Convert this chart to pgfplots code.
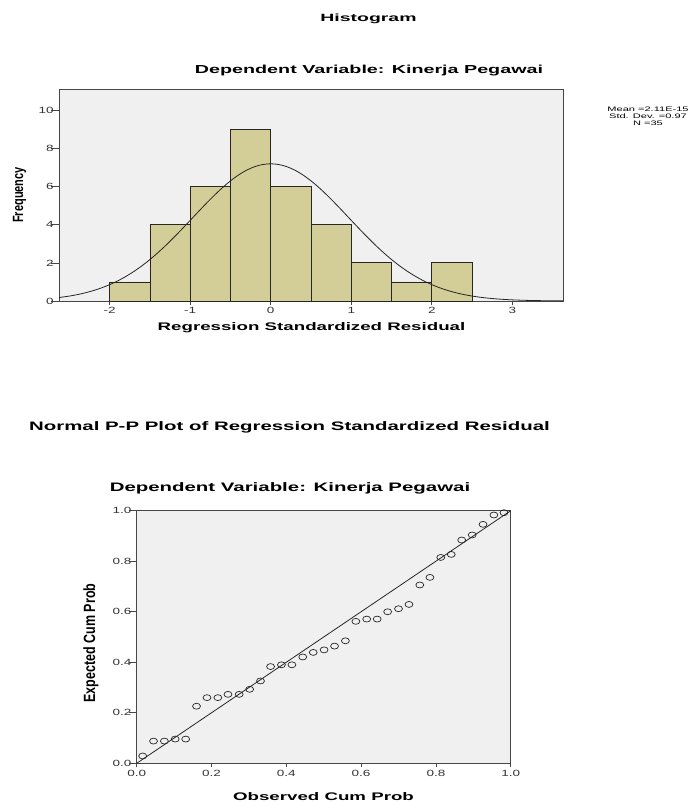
\documentclass[border=0pt]{standalone}
\usepackage{fontspec}
\setmainfont{Liberation Sans}
\usepackage{pgfplots}
\pgfplotsset{compat=1.18}
\definecolor{barfill}{RGB}{211,206,151}
\definecolor{bgfill}{RGB}{240,240,240}
\definecolor{frame}{RGB}{70,70,70}
\newcommand{\sx}[1]{\scalebox{1.7}[1]{#1}}
\pgfplotsset{
  spss/.style={
    scale only axis,
    anchor=south west,
    axis background/.style={fill=bgfill},
    axis line style={frame, line width=1pt},
    tick align=outside,
    xtick pos=bottom, ytick pos=left,
    xtick style={frame, line width=0.7pt, /pgfplots/major tick length=4pt},
    ytick style={frame, line width=0.7pt, /pgfplots/major tick length=8pt},
    tick label style={font=\fontsize{9}{10}\selectfont, text=black!80},
    xticklabel={\scalebox{1.5}[1]{\pgfmathprintnumber{\tick}}},
    yticklabel={\scalebox{1.5}[1]{\pgfmathprintnumber{\tick}}},
    xticklabel style={inner sep=1pt, yshift=-1pt},
    yticklabel style={inner sep=0.8pt},
    /pgf/number format/assume math mode=true,
  }
}
\begin{document}
\begin{tikzpicture}[x=1pt,y=1pt]
\useasboundingbox (0,0) rectangle (699,-803);
% Histogram titles
\node[font=\bfseries\fontsize{10.5}{12}\selectfont] at (368.5,-19) {\scalebox{1.85}[1]{Histogram}};
\node[font=\bfseries\fontsize{11.6}{13}\selectfont] at (369,-71) {\sx{Dependent Variable: Kinerja Pegawai}};
\node[font=\fontsize{6.5}{7.5}\selectfont, align=center, inner sep=0pt] at (648,-116.5) {\sx{Mean =2.11E-15}\\[-0.5pt]\sx{Std. Dev. =0.97}\\[-0.5pt]\sx{N =35}};
\node[rotate=90, font=\bfseries\fontsize{11}{13}\selectfont] at (19.5,-195) {\scalebox{1}[1.35]{Frequency}};
\node[font=\bfseries\fontsize{11}{13}\selectfont] at (311.5,-328) {\sx{Regression Standardized Residual}};
\begin{axis}[spss,
  at={(59pt,-301pt)}, width=504pt, height=212pt,
  xmin=-2.63, xmax=3.63, ymin=0, ymax=11.12,
  xtick={-2,-1,0,1,2,3}, ytick={0,2,4,6,8,10},
]
\addplot[ybar interval, fill=barfill, draw=black!85, line width=0.8pt] coordinates {
(-2,1)(-1.5,4)(-1,6)(-0.5,9)(0,6)(0.5,4)(1,2)(1.5,1)(2,2)(2.5,2)};
\addplot[smooth, black!85, line width=0.8pt] coordinates {
(-2.63,0.182)(-2.6,0.198)(-2.5,0.260)(-2.4,0.337)(-2.3,0.433)(-2.2,0.550)(-2.1,0.691)
(-2.0,0.859)(-1.9,1.057)(-1.8,1.287)(-1.7,1.550)(-1.6,1.846)(-1.5,2.177)(-1.4,2.540)
(-1.3,2.932)(-1.2,3.349)(-1.1,3.784)(-1.0,4.231)(-0.9,4.680)(-0.8,5.122)(-0.7,5.547)
(-0.6,5.944)(-0.5,6.302)(-0.4,6.611)(-0.3,6.861)(-0.2,7.046)(-0.1,7.159)(0,7.197)
(0.1,7.159)(0.2,7.046)(0.3,6.861)(0.4,6.611)(0.5,6.302)(0.6,5.944)(0.7,5.547)
(0.8,5.122)(0.9,4.680)(1.0,4.231)(1.1,3.784)(1.2,3.349)(1.3,2.932)(1.4,2.540)
(1.5,2.177)(1.6,1.846)(1.7,1.550)(1.8,1.287)(1.9,1.057)(2.0,0.859)(2.1,0.691)
(2.2,0.550)(2.3,0.433)(2.4,0.337)(2.5,0.260)(2.6,0.198)(2.7,0.150)(2.8,0.112)
(2.9,0.0825)(3.0,0.0603)(3.1,0.0436)(3.2,0.0312)(3.3,0.0221)(3.4,0.0155)(3.5,0.0107)(3.63,0.0066)};
\end{axis}
% P-P plot titles
\node[font=\bfseries\fontsize{12.3}{14}\selectfont] at (289.5,-427) {\scalebox{1.66}[1]{Normal P-P Plot of Regression Standardized Residual}};
\node[font=\bfseries\fontsize{12.3}{14}\selectfont] at (290,-488) {\scalebox{1.66}[1]{Dependent Variable: Kinerja Pegawai}};
\node[rotate=90, font=\bfseries\fontsize{12.5}{14}\selectfont] at (91,-643) {\scalebox{1}[1.3]{Expected Cum Prob}};
\node[font=\bfseries\fontsize{11}{13}\selectfont] at (323.5,-797) {\sx{Observed Cum Prob}};
\begin{axis}[spss,
  at={(136.7pt,-763.3pt)}, width=374pt, height=252.6pt,
  xmin=0, xmax=1, ymin=0, ymax=1,
  xtick={0,0.2,0.4,0.6,0.8,1.0}, ytick={0,0.2,0.4,0.6,0.8,1.0},
  /pgf/number format/.cd, fixed, fixed zerofill, precision=1, /pgfplots/.cd,
  clip=false,
]
\addplot[black!85, line width=0.8pt] coordinates {(0,0)(1,1)};
\addplot[only marks, mark=o, mark size=3.3pt, mark options={line width=0.7pt, black!85, xscale=1.2, yscale=0.9}] coordinates {
(0.016,0.029)(0.045,0.088)(0.074,0.088)(0.103,0.096)(0.131,0.096)(0.160,0.226)
(0.188,0.260)(0.217,0.260)(0.244,0.273)(0.274,0.273)(0.302,0.293)(0.331,0.326)
(0.358,0.383)(0.387,0.390)(0.415,0.390)(0.444,0.421)(0.472,0.439)(0.501,0.449)
(0.529,0.464)(0.558,0.485)(0.586,0.562)(0.615,0.571)(0.643,0.571)(0.671,0.600)
(0.700,0.612)(0.728,0.629)(0.757,0.706)(0.784,0.736)(0.813,0.815)(0.841,0.827)
(0.869,0.884)(0.897,0.904)(0.926,0.946)(0.955,0.983)(0.982,0.992)};
\end{axis}
\end{tikzpicture}
\end{document}
